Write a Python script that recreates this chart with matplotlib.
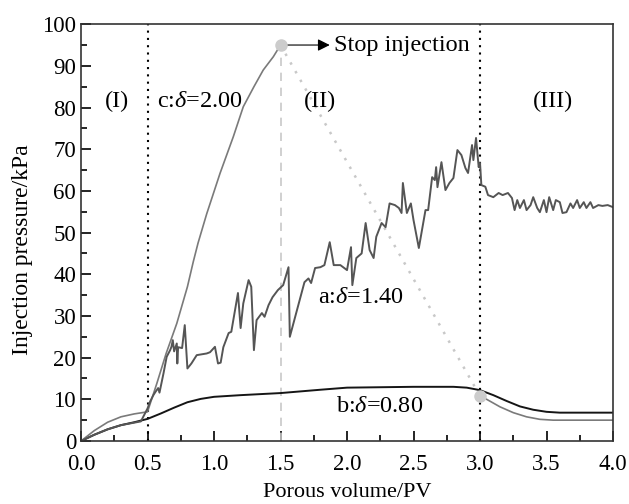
import numpy as np
import matplotlib
matplotlib.use("Agg")
import matplotlib.pyplot as plt
from matplotlib.ticker import MultipleLocator, FormatStrFormatter

plt.rcParams['font.family'] = ['Liberation Serif', 'DejaVu Serif']
plt.rcParams['mathtext.fontset'] = 'custom'
plt.rcParams['mathtext.rm'] = 'Liberation Serif'
plt.rcParams['mathtext.it'] = 'Liberation Serif:italic'

# curve a: delta = 1.40 (noisy)
a_x = [0.0, 0.1, 0.2, 0.3, 0.4, 0.45, 0.50, 0.52, 0.544, 0.56, 0.58, 0.59, 0.62, 0.644,
       0.67, 0.68, 0.69, 0.70, 0.72, 0.724, 0.73, 0.76, 0.78, 0.80, 0.83, 0.87, 0.945,
       0.97, 1.007, 1.03, 1.05, 1.07, 1.11,
       1.13, 1.18, 1.20, 1.22, 1.26, 1.28, 1.30, 1.32, 1.36, 1.38, 1.41, 1.44, 1.48,
       1.52, 1.56, 1.57, 1.61, 1.65, 1.68, 1.71, 1.73, 1.76, 1.80, 1.83, 1.87, 1.90,
       1.95, 2.00, 2.03, 2.04, 2.07, 2.11, 2.14, 2.17, 2.20, 2.22, 2.26, 2.29, 2.32,
       2.36, 2.39, 2.41, 2.42, 2.45, 2.48, 2.50, 2.54, 2.59, 2.61, 2.64, 2.66, 2.67,
       2.68, 2.71, 2.74, 2.77, 2.80, 2.83, 2.86, 2.89, 2.91, 2.94, 2.95, 2.97, 2.99,
       3.00, 3.01, 3.04, 3.06, 3.10, 3.14, 3.17, 3.21, 3.24, 3.26, 3.28, 3.30, 3.33,
       3.35, 3.38, 3.40, 3.43, 3.45, 3.48, 3.50, 3.52, 3.55, 3.57, 3.60, 3.62, 3.65,
       3.68, 3.70, 3.73, 3.75, 3.78, 3.80, 3.83, 3.85, 3.89, 3.92, 3.96, 4.00]
a_y = [0.0, 1.5, 2.8, 3.8, 4.4, 4.7, 7.8, 9.5, 11.0, 11.8, 12.7, 11.6, 16.2, 20.2,
       21.8, 22.6, 24.2, 21.5, 23.4, 18.6, 22.5, 22.3, 27.8, 17.4, 18.6, 20.6, 21.0,
       21.3, 22.6, 18.6, 18.8, 22.5, 25.9,
       26.2, 35.5, 27.1, 33.0, 38.6, 37.0, 21.8, 29.0, 30.7, 29.8, 32.6, 34.5, 36.2,
       37.4, 41.7, 25.0, 29.8, 34.5, 38.1, 39.0, 37.9, 41.5, 41.7, 42.2, 47.7, 42.2,
       42.2, 41.0, 46.5, 37.4, 43.9, 45.0, 52.3, 45.8, 43.9, 49.0, 52.3, 51.3, 57.0,
       56.6, 55.9, 54.7, 61.9, 54.7, 57.0, 53.0, 46.3, 55.4, 55.4, 63.3, 62.6, 65.7,
       60.9, 66.9, 60.2, 61.9, 63.1, 69.8, 68.6, 65.5, 64.3, 71.0, 67.4, 72.7, 65.7,
       66.7, 61.4, 61.0, 59.0, 58.5, 59.5, 59.0, 59.5, 58.3, 55.4, 57.8, 55.9, 57.8,
       55.4, 56.6, 58.5, 55.9, 54.9, 57.8, 54.9, 58.5, 55.4, 57.8, 57.3, 54.7, 54.9,
       57.0, 55.9, 57.8, 55.9, 57.3, 55.9, 57.3, 55.9, 56.6, 56.4, 56.6, 56.1]

# curve b: delta = 0.80
b_x = [0.0, 0.1, 0.2, 0.3, 0.4, 0.5, 0.6, 0.7, 0.8, 0.9, 1.0, 1.2, 1.5, 1.8, 2.0,
       2.5, 2.8, 2.9, 3.0, 3.1, 3.2, 3.3, 3.4, 3.5, 3.6, 4.0]
b_y = [0.0, 1.5, 2.8, 3.8, 4.5, 5.3, 6.6, 8.0, 9.3, 10.1, 10.6, 11.0, 11.5, 12.3, 12.8,
       13.0, 13.0, 12.8, 12.2, 11.0, 9.6, 8.3, 7.5, 7.0, 6.8, 6.8]

# curve c: delta = 2.00, up to stop of injection
c_x = [0.0, 0.1, 0.2, 0.3, 0.4, 0.5, 0.57, 0.64, 0.72, 0.80, 0.844, 0.88, 0.945, 1.045,
       1.145, 1.22, 1.30, 1.37, 1.446, 1.50]
c_y = [0.0, 2.5, 4.5, 5.8, 6.5, 7.0, 13.8, 21.0, 28.2, 37.0, 43.0, 47.5, 54.5, 64.2,
       73.0, 80.2, 85.0, 89.0, 92.2, 95.0]
# curve c after stop
c2_x = [3.0, 3.05, 3.15, 3.25, 3.35, 3.45, 3.55, 3.7, 4.0]
c2_y = [10.8, 10.0, 8.2, 6.8, 5.8, 5.2, 5.0, 5.0, 5.0]

stop_pt = (1.5, 95.0)
end_pt = (3.0, 10.8)

fig = plt.figure(figsize=(6.29, 5.04), dpi=100)
ax = fig.add_axes([0.1288, 0.125, 0.8458, 0.827])

ax.plot([0.5, 0.5], [0, 100], color='black', ls=(0, (1, 2.5)), lw=1.5)
ax.plot([3.0, 3.0], [0, 100], color='black', ls=(0, (1, 2.5)), lw=1.5)
ax.plot([1.5, 1.5], [0, 95], color='#c8c8c8', ls=(0, (5, 4)), lw=1.2)
ax.plot([stop_pt[0], end_pt[0]], [stop_pt[1], end_pt[1]], color='#c8c8c8',
        ls=(0, (1, 3)), lw=1.8)

ax.plot(b_x, b_y, color='#151515', lw=1.4)
ax.plot(c_x, c_y, color='#7a7a7a', lw=1.2)
ax.plot(c2_x, c2_y, color='#7a7a7a', lw=1.2)
ax.plot(a_x, a_y, color='#555555', lw=1.4)

ax.plot(*stop_pt, 'o', ms=8, color='#cccccc', zorder=5)
ax.plot(*end_pt, 'o', ms=8, color='#cccccc', zorder=5)

ax.annotate('', xy=(1.87, 95), xytext=(1.52, 95),
            arrowprops=dict(arrowstyle='-|>', color='black', lw=0.8,
                            mutation_scale=18, shrinkA=0, shrinkB=0))
fs = 17.5
ax.text(1.9, 95, 'Stop injection', fontsize=fs, va='center', ha='left')

ax.text(0.27, 81.5, '(I)', fontsize=fs, ha='center', va='center')
ax.text(1.80, 81.5, '(II)', fontsize=fs, ha='center', va='center')
ax.text(3.55, 81.5, '(III)', fontsize=fs, ha='center', va='center')
ax.text(0.57, 81.5, r'c:$\delta$=2.00', fontsize=fs, ha='left', va='center')
ax.text(1.78, 34.5, r'a:$\delta$=1.40', fontsize=fs, ha='left', va='center')
ax.text(1.92, 8.2, r'b:$\delta$=0.80', fontsize=fs, ha='left', va='center')

ax.set_xlim(0, 4.0)
ax.set_ylim(0, 100)
ax.xaxis.set_major_locator(MultipleLocator(0.5))
ax.xaxis.set_minor_locator(MultipleLocator(0.25))
ax.yaxis.set_major_locator(MultipleLocator(10))
ax.yaxis.set_minor_locator(MultipleLocator(5))
ax.xaxis.set_major_formatter(FormatStrFormatter('%.1f'))
ax.tick_params(which='both', direction='in', top=False, right=False,
               labelsize=16.5, width=1.2)
ax.tick_params(axis='x', pad=9)
ax.tick_params(which='major', length=7)
ax.tick_params(which='minor', length=4)
for s in ax.spines.values():
    s.set_linewidth(1.2)
    s.set_color('#333333')

ax.set_xlabel('Porous volume/PV', fontsize=16)
ax.xaxis.set_label_coords(0.5, -0.1)
ax.set_ylabel('Injection pressure/kPa', fontsize=17)
ax.yaxis.set_label_coords(-0.09, 0.46)

fig.savefig('out.png', dpi=100)
